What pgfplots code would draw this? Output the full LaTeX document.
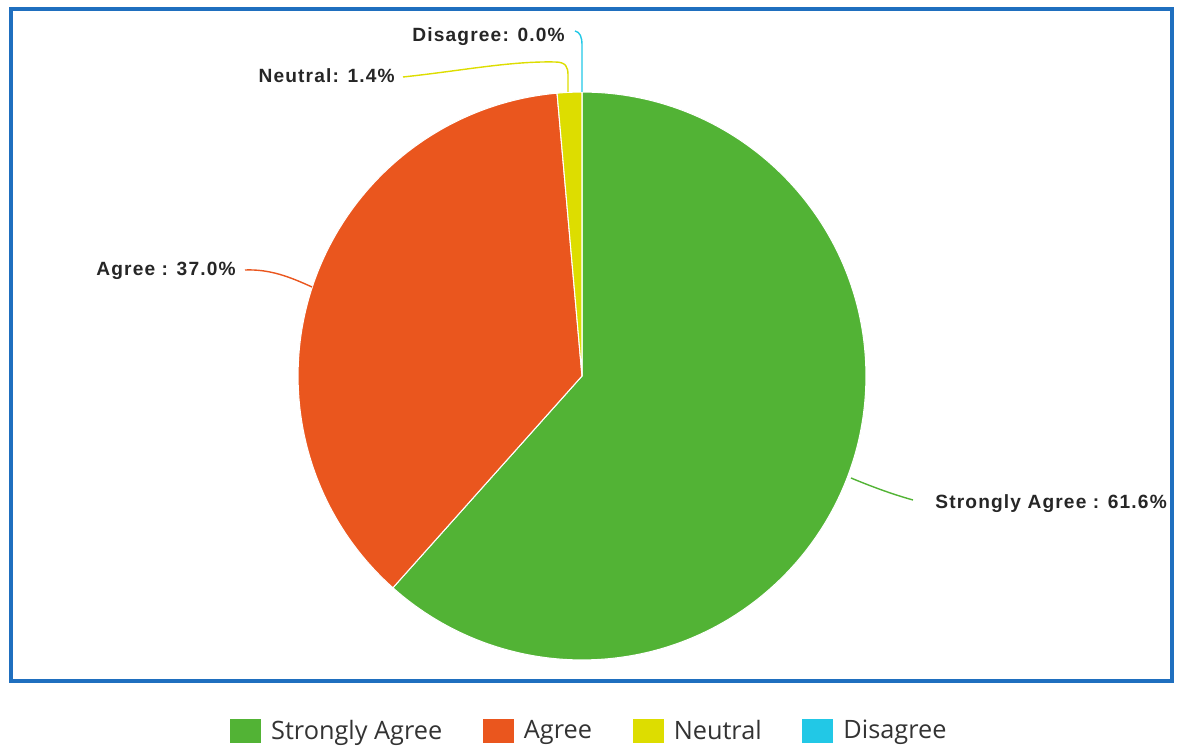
\documentclass[border=0pt]{standalone}
\usepackage{fontspec}
\setmainfont{Liberation Sans}
\newfontfamily\legfont{Open Sans}
\usepackage{pgfplots}
\usepackage{pgfplotstable}
\pgfplotsset{compat=1.18}
\definecolor{cSA}{HTML}{52B335}
\definecolor{cAg}{HTML}{EA561E}
\definecolor{cNe}{HTML}{DDDD00}
\definecolor{cDi}{HTML}{22C8E6}
\definecolor{frame}{HTML}{1F6FBF}
\definecolor{legtxt}{HTML}{333333}

\pgfplotstableread{
label value
StronglyAgree 61.6
Agree 37.0
Neutral 1.4
Disagree 0.0
}\piedata

\pgfplotstablegetelem{0}{value}\of\piedata \let\vSA\pgfplotsretval
\pgfplotstablegetelem{1}{value}\of\piedata \let\vAg\pgfplotsretval
\pgfplotstablegetelem{2}{value}\of\piedata \let\vNe\pgfplotsretval
\pgfplotstablegetelem{3}{value}\of\piedata \let\vDi\pgfplotsretval
\pgfmathsetmacro\aS{90}
\pgfmathsetmacro\aA{90-3.6*\vSA}
\pgfmathsetmacro\aB{\aA-3.6*\vAg}
\pgfmathsetmacro\aC{\aB-3.6*\vNe}
\pgfmathsetmacro\aD{\aC-3.6*\vDi}
\def\R{5.68cm}
\newcommand\pct[1]{\pgfmathprintnumber[fixed,fixed zerofill,precision=1,assume math mode=true]{#1}\%}

\begin{document}
\begin{tikzpicture}
\begin{axis}[
  x=0.02cm, y=0.02cm,
  xmin=0, xmax=1181, ymin=0, ymax=747,
  hide axis, clip=false,
  legend columns=4,
  legend style={at={(axis cs:590,16)}, anchor=center, draw=none, fill=none,
    font=\legfont\fontsize{14.4}{16}\selectfont\color{legtxt},
    /tikz/every even column/.append style={column sep=0.74cm},
    /tikz/every odd column/.append style={column sep=0.14cm},
    inner sep=0pt},
  legend cell align=left,
]
\path (axis cs:0,0) rectangle (axis cs:1181,747);
\addlegendimage{legend image code/.code={\fill[cSA] (0cm,-0.23cm) rectangle (0.6cm,0.23cm);}}
\addlegendentry{Strongly Agree}
\addlegendimage{legend image code/.code={\fill[cAg] (0cm,-0.23cm) rectangle (0.6cm,0.23cm);}}
\addlegendentry{Agree}
\addlegendimage{legend image code/.code={\fill[cNe] (0cm,-0.23cm) rectangle (0.6cm,0.23cm);}}
\addlegendentry{Neutral}
\addlegendimage{legend image code/.code={\fill[cDi] (0cm,-0.23cm) rectangle (0.6cm,0.23cm);}}
\addlegendentry{Disagree}

% frame
\draw[frame, line width=0.08cm] (axis cs:11,737.5) rectangle (axis cs:1171.5,65.5);

% slices
\filldraw[fill=cSA, draw=white, line width=0.6pt] (axis cs:582,371) -- ++(\aS:\R) arc[start angle=\aS, end angle=\aA, radius=\R] -- cycle;
\filldraw[fill=cAg, draw=white, line width=0.6pt] (axis cs:582,371) -- ++(\aA:\R) arc[start angle=\aA, end angle=\aB, radius=\R] -- cycle;
\filldraw[fill=cNe, draw=white, line width=0.6pt] (axis cs:582,371) -- ++(\aB:\R) arc[start angle=\aB, end angle=\aC, radius=\R] -- cycle;

% leader lines
\draw[cSA, line width=0.8pt] (axis cs:851,269) .. controls (axis cs:875,259) and (axis cs:895,252) .. (axis cs:913,247);
\draw[cAg, line width=0.8pt] (axis cs:245,477) .. controls (axis cs:270,478) and (axis cs:290,470) .. (axis cs:312,460);
\draw[cNe, line width=0.8pt] (axis cs:403,670) .. controls (axis cs:460,676) and (axis cs:510,686) .. (axis cs:555,685)
   .. controls (axis cs:566,685) and (axis cs:568,680) .. (axis cs:568,672) -- (axis cs:568,655);
\draw[cDi, line width=0.8pt] (axis cs:575,716) .. controls (axis cs:580,715) and (axis cs:582,710) .. (axis cs:582,702) -- (axis cs:582,655);

% labels
\begin{scope}[every node/.style={inner sep=0pt, text=black!85, font=\bfseries\fontsize{10.9}{12}\selectfont\addfontfeatures{LetterSpace=6}}]
\node[anchor=base west] at (axis cs:935,238) {Strongly Agree : \pct{\vSA}};
\node[anchor=base east] at (axis cs:236,471) {Agree : \pct{\vAg}};
\node[anchor=base east] at (axis cs:395,664) {Neutral: \pct{\vNe}};
\node[anchor=base east] at (axis cs:565,705) {Disagree: \pct{\vDi}};
\end{scope}
\end{axis}
\end{tikzpicture}
\end{document}
